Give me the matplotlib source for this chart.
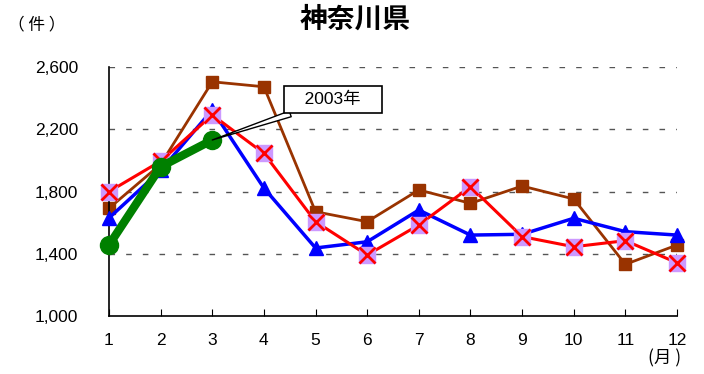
import matplotlib
matplotlib.use("Agg")
import matplotlib.pyplot as plt

plt.rcParams['font.family'] = ['Liberation Sans', 'Noto Sans CJK JP', 'DejaVu Sans']

months = list(range(1, 13))
series_brown = [1692, 1975, 2505, 2473, 1670, 1606, 1810, 1724, 1835, 1752, 1332, 1456]
series_blue = [1630, 1935, 2324, 1822, 1437, 1477, 1681, 1520, 1525, 1628, 1542, 1520]
series_red = [1799, 1995, 2292, 2045, 1606, 1392, 1585, 1831, 1510, 1445, 1484, 1342]
months_2003 = [1, 2, 3]
series_2003 = [1456, 1959, 2131]
yticks = [1000, 1400, 1800, 2200, 2600]
ytick_labels = ["1,000", "1,400", "1,800", "2,200", "2,600"]

fig = plt.figure(figsize=(7.04, 3.74), dpi=100)
ax = fig.add_axes([109/704, 1 - 316/374, (677-109)/704, (316-67)/374])
ax.set_xlim(1, 12)
ax.set_ylim(1000, 2600)

for y in yticks[1:]:
    ax.axhline(y, color='#555555', lw=1, ls=(0, (4, 8)), zorder=0)

ax.plot(months, series_brown, color='#993300', lw=2, marker='s', ms=9,
        mfc='#993300', mec='#993300', zorder=2, clip_on=False)
ax.plot(months, series_blue, color='#0000FF', lw=2.5, marker='^', ms=10,
        mfc='#0000FF', mec='#0000FF', zorder=3, clip_on=False)
ax.plot(months, series_red, color='#FF0000', lw=2.2, marker='s', ms=11,
        mfc='#CC99FF', mec='#CC99FF', zorder=4, clip_on=False)
ax.plot(months, series_red, ls='none', marker='x', ms=11, mew=2,
        mec='#FF0000', zorder=4.5, clip_on=False)
ax.plot(months_2003, series_2003, color='#008000', lw=6, marker='o', ms=13,
        mfc='#008000', mec='#008000', zorder=5, clip_on=False)

ax.annotate('   2003年   ', xy=(months_2003[-1], series_2003[-1]),
            xytext=(333, 374 - 99.5), textcoords='figure pixels',
            fontsize=12.5, ha='center', va='center', zorder=6,
            bbox=dict(boxstyle='square,pad=0.35', fc='white', ec='black', lw=1.2),
            arrowprops=dict(arrowstyle='wedge,tail_width=0.35', fc='white', ec='black', lw=1,
                            shrinkA=0, shrinkB=0))

for s in ['top', 'right']:
    ax.spines[s].set_visible(False)
ax.spines['left'].set_linewidth(1.2)
ax.spines['bottom'].set_linewidth(1.2)
ax.set_xticks(months)
ax.set_xticklabels([str(m) for m in months], fontsize=12.5)
ax.set_yticks(yticks)
ax.set_yticklabels(ytick_labels, fontsize=12.5)
ax.tick_params(axis='x', direction='in', length=5, pad=12)
ax.tick_params(axis='y', length=0, pad=22)

fig.text(355/704, 1 - 20/374, '神奈川県', fontsize=20, fontweight='bold', ha='center', va='center',
         family=['Noto Sans CJK JP', 'DejaVu Sans'])
fig.text(8/704, 1 - 25/374, '（ 件 ）', fontsize=12, ha='left', va='center',
         family=['Noto Sans CJK JP', 'DejaVu Sans'])
fig.text(665/704, 1 - 358/374, '(月 )', fontsize=12.5, ha='center', va='center',
         family=['Noto Sans CJK JP', 'DejaVu Sans'])

fig.savefig('out.png', dpi=100)
